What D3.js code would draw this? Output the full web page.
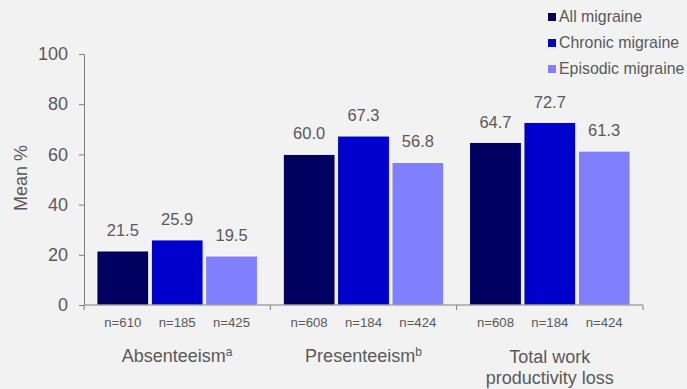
<!DOCTYPE html>
<html>
<head>
<meta charset="utf-8">
<script src="https://cdn.jsdelivr.net/npm/d3@7.9.0/dist/d3.min.js"></script>
<style>
  body { margin: 0; background: #f2f2f2; }
  svg { display: block; font-family: "Liberation Sans", Arial, sans-serif; }
</style>
</head>
<body>
<svg id="chart" width="687" height="389"></svg>
<script>
// categories + series
const categories = ['Absenteeism', 'Presenteeism', 'Total work productivity loss'];
const catLines = [['Absenteeism', 'a'], ['Presenteeism', 'b'], ['Total work', 'productivity loss']];
const seriesNames = ['All migraine', 'Chronic migraine', 'Episodic migraine'];
const colors = ['#000060', '#0000cc', '#8080ff'];

const allMigraine = [21.5, 60.0, 64.7];
const chronicMigraine = [25.9, 67.3, 72.7];
const episodicMigraine = [19.5, 56.8, 61.3];

const nAll = [610, 608, 608];
const nChronic = [185, 184, 184];
const nEpisodic = [425, 424, 424];

const yTicks = [0, 20, 40, 60, 80, 100];

const svg = d3.select('#chart');
const textColor = '#595959';
const axisColor = '#7f7f7f';

const x0 = d3.scaleBand().domain(categories).range([84, 643]).padding(0);
const x1 = d3.scaleBand().domain(seriesNames)
  .range([13, x0.bandwidth() - 13]).paddingInner(0.05);
const y = d3.scaleLinear().domain([0, 100]).range([305, 54]);

// rows of data, one per category
const rows = categories.map((c, i) => ({
  cat: c,
  vals: [allMigraine[i], chronicMigraine[i], episodicMigraine[i]],
  ns: [nAll[i], nChronic[i], nEpisodic[i]]
}));

const g = svg.selectAll('g.group')
  .data(rows)
  .join('g')
  .attr('class', 'group')
  .attr('transform', d => `translate(${x0(d.cat)},0)`);

g.selectAll('rect')
  .data(d => d.vals.map((v, j) => ({ v, s: seriesNames[j], c: colors[j] })))
  .join('rect')
  .attr('x', d => x1(d.s))
  .attr('width', x1.bandwidth())
  .attr('y', d => y(d.v))
  .attr('height', d => y(0) - y(d.v))
  .attr('fill', d => d.c)
  .attr('stroke', '#ffffff')
  .attr('stroke-width', 0.8);

// value labels
g.selectAll('text.val')
  .data(d => d.vals.map((v, j) => ({ v, s: seriesNames[j] })))
  .join('text')
  .attr('class', 'val')
  .attr('x', d => x1(d.s) + x1.bandwidth() / 2)
  .attr('y', d => y(d.v) - 15)
  .attr('text-anchor', 'middle')
  .attr('fill', textColor)
  .attr('font-size', 16.5)
  .text(d => d.v.toFixed(1));

// n labels
g.selectAll('text.n')
  .data(d => d.ns.map((n, j) => ({ n, s: seriesNames[j] })))
  .join('text')
  .attr('class', 'n')
  .attr('x', d => x1(d.s) + x1.bandwidth() / 2)
  .attr('y', 327)
  .attr('text-anchor', 'middle')
  .attr('fill', textColor)
  .attr('font-size', 13.2)
  .text(d => 'n=' + d.n);

// category labels
g.each(function (d, i) {
  const sel = d3.select(this);
  const cx = x0.bandwidth() / 2;
  const lines = catLines[i];
  if (i < 2) {
    const t = sel.append('text')
      .attr('x', cx).attr('y', 362)
      .attr('text-anchor', 'middle')
      .attr('fill', textColor)
      .attr('font-size', 18);
    t.append('tspan').text(lines[0]);
    t.append('tspan').attr('font-size', 12).attr('dy', -6).text(lines[1]);
  } else {
    lines.forEach((l, k) => {
      sel.append('text')
        .attr('x', cx).attr('y', 363 + k * 21)
        .attr('text-anchor', 'middle')
        .attr('fill', textColor)
        .attr('font-size', 18)
        .text(l);
    });
  }
});

// y axis
const yAxis = svg.append('g')
  .attr('transform', 'translate(84,0)')
  .call(d3.axisLeft(y).tickValues(yTicks).tickSize(5).tickPadding(11));
yAxis.select('.domain').attr('stroke', axisColor);
yAxis.selectAll('line').attr('stroke', axisColor);
yAxis.selectAll('text').attr('fill', textColor).attr('font-size', 18)
  .attr('font-family', '"Liberation Sans", Arial, sans-serif');

// x axis with ticks at category boundaries
const xAxisG = svg.append('g');
xAxisG.append('line')
  .attr('x1', x0.range()[0]).attr('x2', x0.range()[1])
  .attr('y1', y(0)).attr('y2', y(0))
  .attr('stroke', axisColor);
const bounds = categories.map(c => x0(c)).concat([x0.range()[1]]);
xAxisG.selectAll('line.tk')
  .data(bounds)
  .join('line')
  .attr('class', 'tk')
  .attr('x1', d => d).attr('x2', d => d)
  .attr('y1', y(0)).attr('y2', y(0) + 5)
  .attr('stroke', axisColor);

// y title
svg.append('text')
  .attr('transform', 'translate(27,178) rotate(-90)')
  .attr('text-anchor', 'middle')
  .attr('fill', textColor)
  .attr('font-size', 18)
  .text('Mean %');

// legend
const leg = svg.append('g').attr('transform', 'translate(548,0)');
leg.selectAll('rect')
  .data(seriesNames)
  .join('rect')
  .attr('x', 0)
  .attr('y', (d, i) => 13 + i * 26)
  .attr('width', 8).attr('height', 8)
  .attr('fill', (d, i) => colors[i]);
leg.selectAll('text')
  .data(seriesNames)
  .join('text')
  .attr('x', 11)
  .attr('y', (d, i) => 22 + i * 26)
  .attr('fill', textColor)
  .attr('font-size', 15.9)
  .text(d => d);
</script>
</body>
</html>
